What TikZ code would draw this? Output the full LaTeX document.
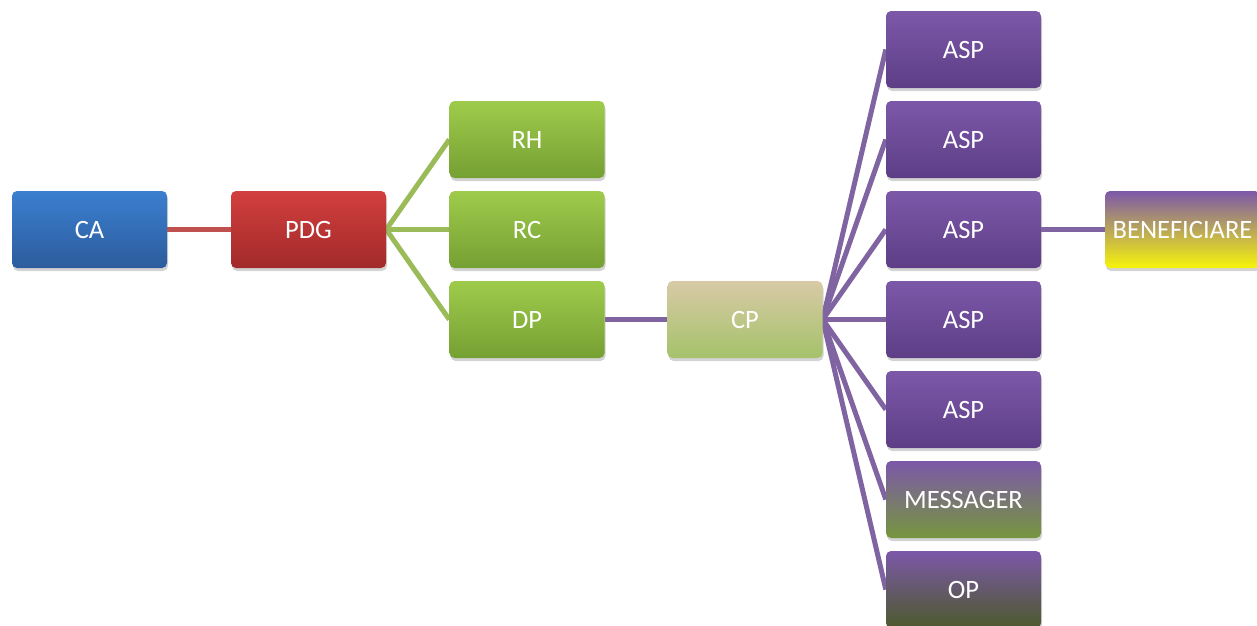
\documentclass[tikz,border=0pt]{standalone}
\usepackage{fontspec}
\setmainfont{Carlito}
\usetikzlibrary{shadows,backgrounds}
\definecolor{caT}{HTML}{3B7FD0}
\definecolor{caB}{HTML}{2C5C9C}
\definecolor{pdT}{HTML}{D23F3E}
\definecolor{pdB}{HTML}{A22A2A}
\definecolor{grT}{HTML}{9FCB4C}
\definecolor{grB}{HTML}{75A033}
\definecolor{cpT}{HTML}{D8CAA6}
\definecolor{cpM}{HTML}{F0EED8}
\definecolor{cpB}{HTML}{A5C26A}
\definecolor{puT}{HTML}{7C58A9}
\definecolor{puB}{HTML}{5D3E86}
\definecolor{meB}{HTML}{76963E}
\definecolor{opB}{HTML}{4C5A2C}
\definecolor{beB}{HTML}{F7F40A}
\definecolor{lnR}{HTML}{C0504D}
\definecolor{lnG}{HTML}{9BBB59}
\definecolor{lnP}{HTML}{8064A2}
\tikzset{
  box/.style={rounded corners=5pt, minimum width=155pt, minimum height=77pt,
    inner sep=0pt, text=white, font=\fontsize{26.5}{30}\selectfont,
    drop shadow={shadow xshift=1pt, shadow yshift=-3pt, opacity=0.35}},
  cabox/.style={box, top color=caT, bottom color=caB},
  pdbox/.style={box, top color=pdT, bottom color=pdB},
  grbox/.style={box, top color=grT, bottom color=grB},
  cpbox/.style={box, top color=cpT, middle color=cpM, bottom color=cpB},
  pubox/.style={box, top color=puT, bottom color=puB},
  mebox/.style={box, top color=puT, bottom color=meB},
  opbox/.style={box, top color=puT, bottom color=opB},
  bebox/.style={box, top color=puT, bottom color=beB},
  lnred/.style={draw=lnR, line width=5pt},
  lngreen/.style={draw=lnG, line width=5pt},
  lnpurple/.style={draw=lnP, line width=5pt},
}
\begin{document}
\begin{tikzpicture}[x=1pt,y=-1pt]
\useasboundingbox (0,0) rectangle (1257,625);
\clip (0,0) rectangle (1257,625);
% nodes
\node[cabox] (ca) at (89.5,229.5) {CA};
\node[pdbox] (pdg) at (308.5,229.5) {PDG};
\node[grbox] (rh) at (527,139.5) {RH};
\node[grbox] (rc) at (527,229.5) {RC};
\node[grbox] (dp) at (527,319.5) {DP};
\node[cpbox] (cp) at (745,319.5) {CP};
\node[pubox] (asp1) at (963.5,49.5) {ASP};
\node[pubox] (asp2) at (963.5,139.5) {ASP};
\node[pubox] (asp3) at (963.5,229.5) {ASP};
\node[pubox] (asp4) at (963.5,319.5) {ASP};
\node[pubox] (asp5) at (963.5,409.5) {ASP};
\node[mebox] (mes) at (963.5,499.5) {MESSAGER};
\node[opbox] (op) at (963.5,589.5) {OP};
\node[bebox] (ben) at (1182.5,229.5) {BENEFICIARE};
% connectors
\begin{scope}[on background layer]
\draw[lnred] (ca.east) -- (pdg.west);
\foreach \n in {rh,rc,dp}
  \draw[lngreen] (pdg.east) -- (\n.west);
\draw[lnpurple] (dp.east) -- (cp.west);
\foreach \n in {asp1,asp2,asp3,asp4,asp5,mes,op}
  \draw[lnpurple] (cp.east) -- (\n.west);
\draw[lnpurple] (asp3.east) -- (ben.west);
\end{scope}
\end{tikzpicture}
\end{document}
